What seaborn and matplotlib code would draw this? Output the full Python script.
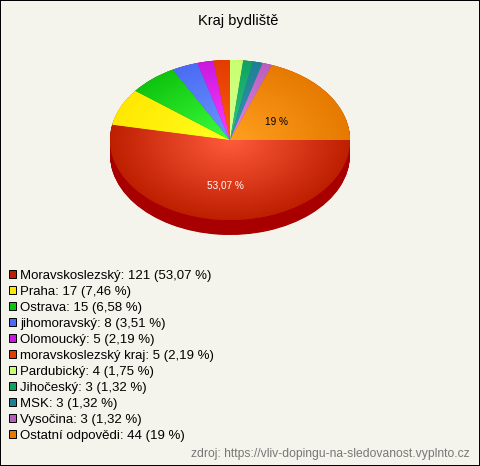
"""
Kraj bydliste - pseudo 3D pie chart with legend
"""
import numpy as np
import matplotlib
matplotlib.use("Agg")
import matplotlib.pyplot as plt
from matplotlib.patches import Patch
import seaborn as sns

categories = ["Moravskoslezský", "Praha", "Ostrava", "jihomoravský", "Olomoucký",
              "moravskoslezský kraj", "Pardubický", "Jihočeský", "MSK", "Vysočina",
              "Ostatní odpovědi"]
counts = [121, 17, 15, 8, 5, 5, 4, 3, 3, 3, 44]
percents = ["53,07", "7,46", "6,58", "3,51", "2,19", "2,19", "1,75", "1,32", "1,32", "1,32", "19"]
edge_colors = ["#bd1f00", "#ffe800", "#0fc40f", "#4a6cf5", "#c81adf", "#e33c00",
               "#c8ff70", "#0fa362", "#1f7f96", "#b85fbd", "#e67a00"]
center_colors = ["#ff5a3c", "#ffff20", "#3cff3c", "#6e96ff", "#ff3cff", "#ff5a14",
                 "#d8ff90", "#30c880", "#3098b0", "#e088e8", "#ffa020"]

W, H = 480, 466
BG = "#f5f4ec"
SIDE = "#a80000"
DEPTH = 15 / 80

sns.set_theme(style="white")
plt.rcParams["font.family"] = ["Liberation Sans", "DejaVu Sans"]

fig = plt.figure(figsize=(W / 100, H / 100), dpi=100, facecolor=BG)
fig.patch.set_edgecolor("black")
fig.patch.set_linewidth(1.44)

# pie box in pixels: x 110-350, y 60-220
ax = fig.add_axes([110 / W, 1 - 220 / H, 240 / W, 160 / H])
ax.set_facecolor("none")
ax.axis("off")

flat = {"linewidth": 0, "edgecolor": "none"}

# side of the pie, stacked copies going down
for off in np.linspace(DEPTH, 0, 31):
    wedges, _ = ax.pie(counts, startangle=0, counterclock=False, radius=1,
                       center=(0, -off), colors=[SIDE] * len(counts), wedgeprops=flat)
    for w in wedges:
        w.set_clip_on(False)

# top face, each wedge filled with a radial gradient
top, _ = ax.pie(counts, startangle=0, counterclock=False, radius=1,
                colors=sns.color_palette(edge_colors), wedgeprops=flat)
yy, xx = np.mgrid[1:-1:400j, -1:1:600j]
rr = np.clip(np.hypot(xx, yy), 0, 1)[..., None]
for w, c0, c1 in zip(top, center_colors, edge_colors):
    c0 = np.array(matplotlib.colors.to_rgb(c0))
    c1 = np.array(matplotlib.colors.to_rgb(c1))
    img = ax.imshow(c0 * (1 - rr) + c1 * rr, extent=(-1, 1, -1, 1), aspect="auto",
                    zorder=w.get_zorder() + 0.5, interpolation="bilinear")
    img.set_clip_path(w)

ax.set_xlim(-1, 1)
ax.set_ylim(-1, 1)
ax.set_aspect("auto")

# percent labels inside the two big slices
ax.text(-0.04, -0.575, "53,07 %", color="white", fontsize=7.2, ha="center", va="center", zorder=10)
ax.text(0.385, 0.225, "19 %", color="black", fontsize=7.2, ha="center", va="center", zorder=10)

fig.text(238 / W, 1 - 21 / H, "Kraj bydliště", fontsize=10.5, color="black", ha="center", va="center")
fig.text(470 / W, 1 - 454 / H, "zdroj: https://vliv-dopingu-na-sledovanost.vyplnto.cz",
         fontsize=8.7, color="#777777", ha="right", va="center")

handles = [Patch(facecolor=c, edgecolor="black", linewidth=0.7) for c in edge_colors]
labels = [f"{n}: {v} ({p} %)" for n, v, p in zip(categories, counts, percents)]
fig.legend(handles, labels, loc="upper left", bbox_to_anchor=(9 / W, 1 - 269.5 / H),
           borderpad=0, borderaxespad=0, frameon=False, fontsize=9.5,
           handlelength=0.56, handleheight=0.56, handletextpad=0.28, labelspacing=0.305,
           labelcolor="black")

fig.savefig("out.png", dpi=100, facecolor=BG, edgecolor="black")
